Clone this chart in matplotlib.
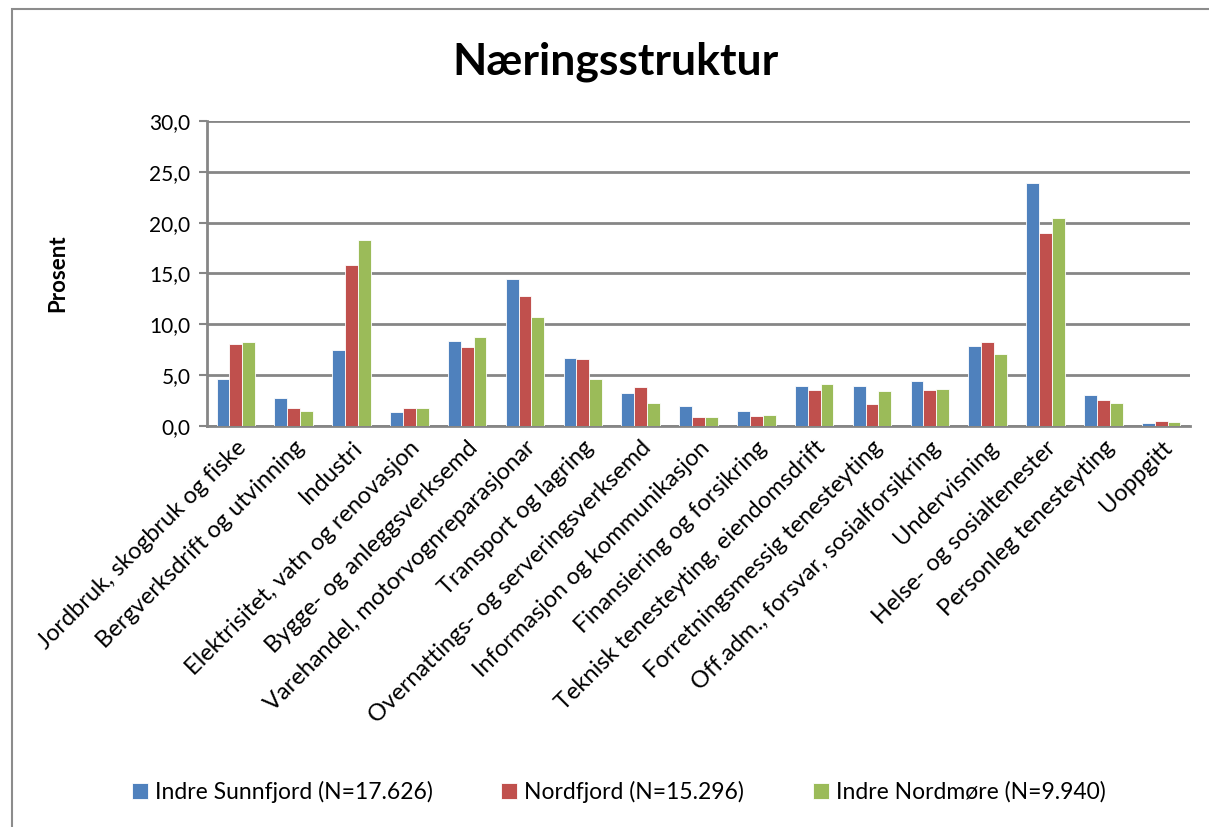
import numpy as np
import matplotlib.pyplot as plt
import matplotlib.transforms as mtransforms
from matplotlib.patches import Rectangle

plt.rcParams['font.family'] = ['Lato', 'DejaVu Sans']

categories = [
    'Jordbruk, skogbruk og fiske',
    'Bergverksdrift og utvinning',
    'Industri',
    'Elektrisitet, vatn og renovasjon',
    'Bygge- og anleggsverksemd',
    'Varehandel, motorvognreparasjonar',
    'Transport og lagring',
    'Overnattings- og serveringsverksemd',
    'Informasjon og kommunikasjon',
    'Finansiering og forsikring',
    'Teknisk tenesteyting, eiendomsdrift',
    'Forretningsmessig tenesteyting',
    'Off.adm., forsvar, sosialforsikring',
    'Undervisning',
    'Helse- og sosialtenester',
    'Personleg tenesteyting',
    'Uoppgitt',
]

series_names = [
    'Indre Sunnfjord (N=17.626)',
    'Nordfjord (N=15.296)',
    'Indre Nordmøre (N=9.940)',
]

sunnfjord = [4.6, 2.8, 7.5, 1.4, 8.4, 14.5, 6.7, 3.2, 2.0, 1.5, 3.9, 3.9, 4.4, 7.9, 23.9, 3.0, 0.3]
nordfjord = [8.1, 1.8, 15.8, 1.8, 7.8, 12.8, 6.6, 3.8, 0.9, 1.0, 3.5, 2.2, 3.5, 8.3, 19.0, 2.6, 0.5]
nordmore = [8.3, 1.5, 18.3, 1.8, 8.8, 10.7, 4.6, 2.3, 0.9, 1.1, 4.1, 3.4, 3.6, 7.1, 20.5, 2.3, 0.4]

colors = ['#4F81BD', '#C0504D', '#9BBB59']

fig = plt.figure(figsize=(12.09, 8.27), dpi=100)
ax = fig.add_axes([0.1712, 0.4849, 0.8131, 0.3688])

# outer chart frame (only left/top visible in the crop)
fig.patches.append(Rectangle((12 / 1209, -0.1), 1.2, 1 - 9 / 827 + 0.1,
                             transform=fig.transFigure, fill=False,
                             edgecolor='#8c8c8c', linewidth=1.5))

x = np.arange(len(categories))
w = 0.222
for i, (vals, name) in enumerate(zip([sunnfjord, nordfjord, nordmore], series_names)):
    ax.bar(x + (i - 1) * w, vals, width=w, color=colors[i], label=name,
           edgecolor='white', linewidth=0.6, zorder=3)

ax.set_xlim(-0.5, len(categories) - 0.5)
ax.set_ylim(0, 30)
ax.set_yticks(np.arange(0, 31, 5))
ax.set_yticklabels([f'{v:.1f}'.replace('.', ',') for v in np.arange(0, 31, 5)], fontsize=15)
ax.grid(axis='y', color='#868686', linewidth=2, zorder=0)
ax.set_xticks(x)
ax.set_xticklabels(categories, rotation=45, ha='right', va='top',
                   rotation_mode='anchor', fontsize=17)
shift = mtransforms.ScaledTranslation(18 / 100, 0, fig.dpi_scale_trans)
for lbl in ax.get_xticklabels():
    lbl.set_transform(lbl.get_transform() + shift)
ax.tick_params(axis='x', length=0, pad=8)
ax.tick_params(axis='y', length=6, width=1.5, color='#868686', pad=6)
for s in ['top', 'right']:
    ax.spines[s].set_visible(False)
for s in ['left', 'bottom']:
    ax.spines[s].set_color('#868686')
    ax.spines[s].set_linewidth(2)

ax.set_ylabel('Prosent', fontsize=16, fontweight='bold', labelpad=58)
fig.text(615 / 1209, 1 - 62 / 827, 'Næringsstruktur', fontsize=32, fontweight='bold',
         ha='center', va='center')

handles, labels = ax.get_legend_handles_labels()
fig.legend(handles, labels, loc='center', bbox_to_anchor=(0.5 + 14 / 1209, 1 - 792 / 827), ncol=3,
           frameon=False, fontsize=16.5, handlelength=0.7, handleheight=0.7,
           handletextpad=0.3, columnspacing=3.0)

fig.savefig('out.png', dpi=100)
